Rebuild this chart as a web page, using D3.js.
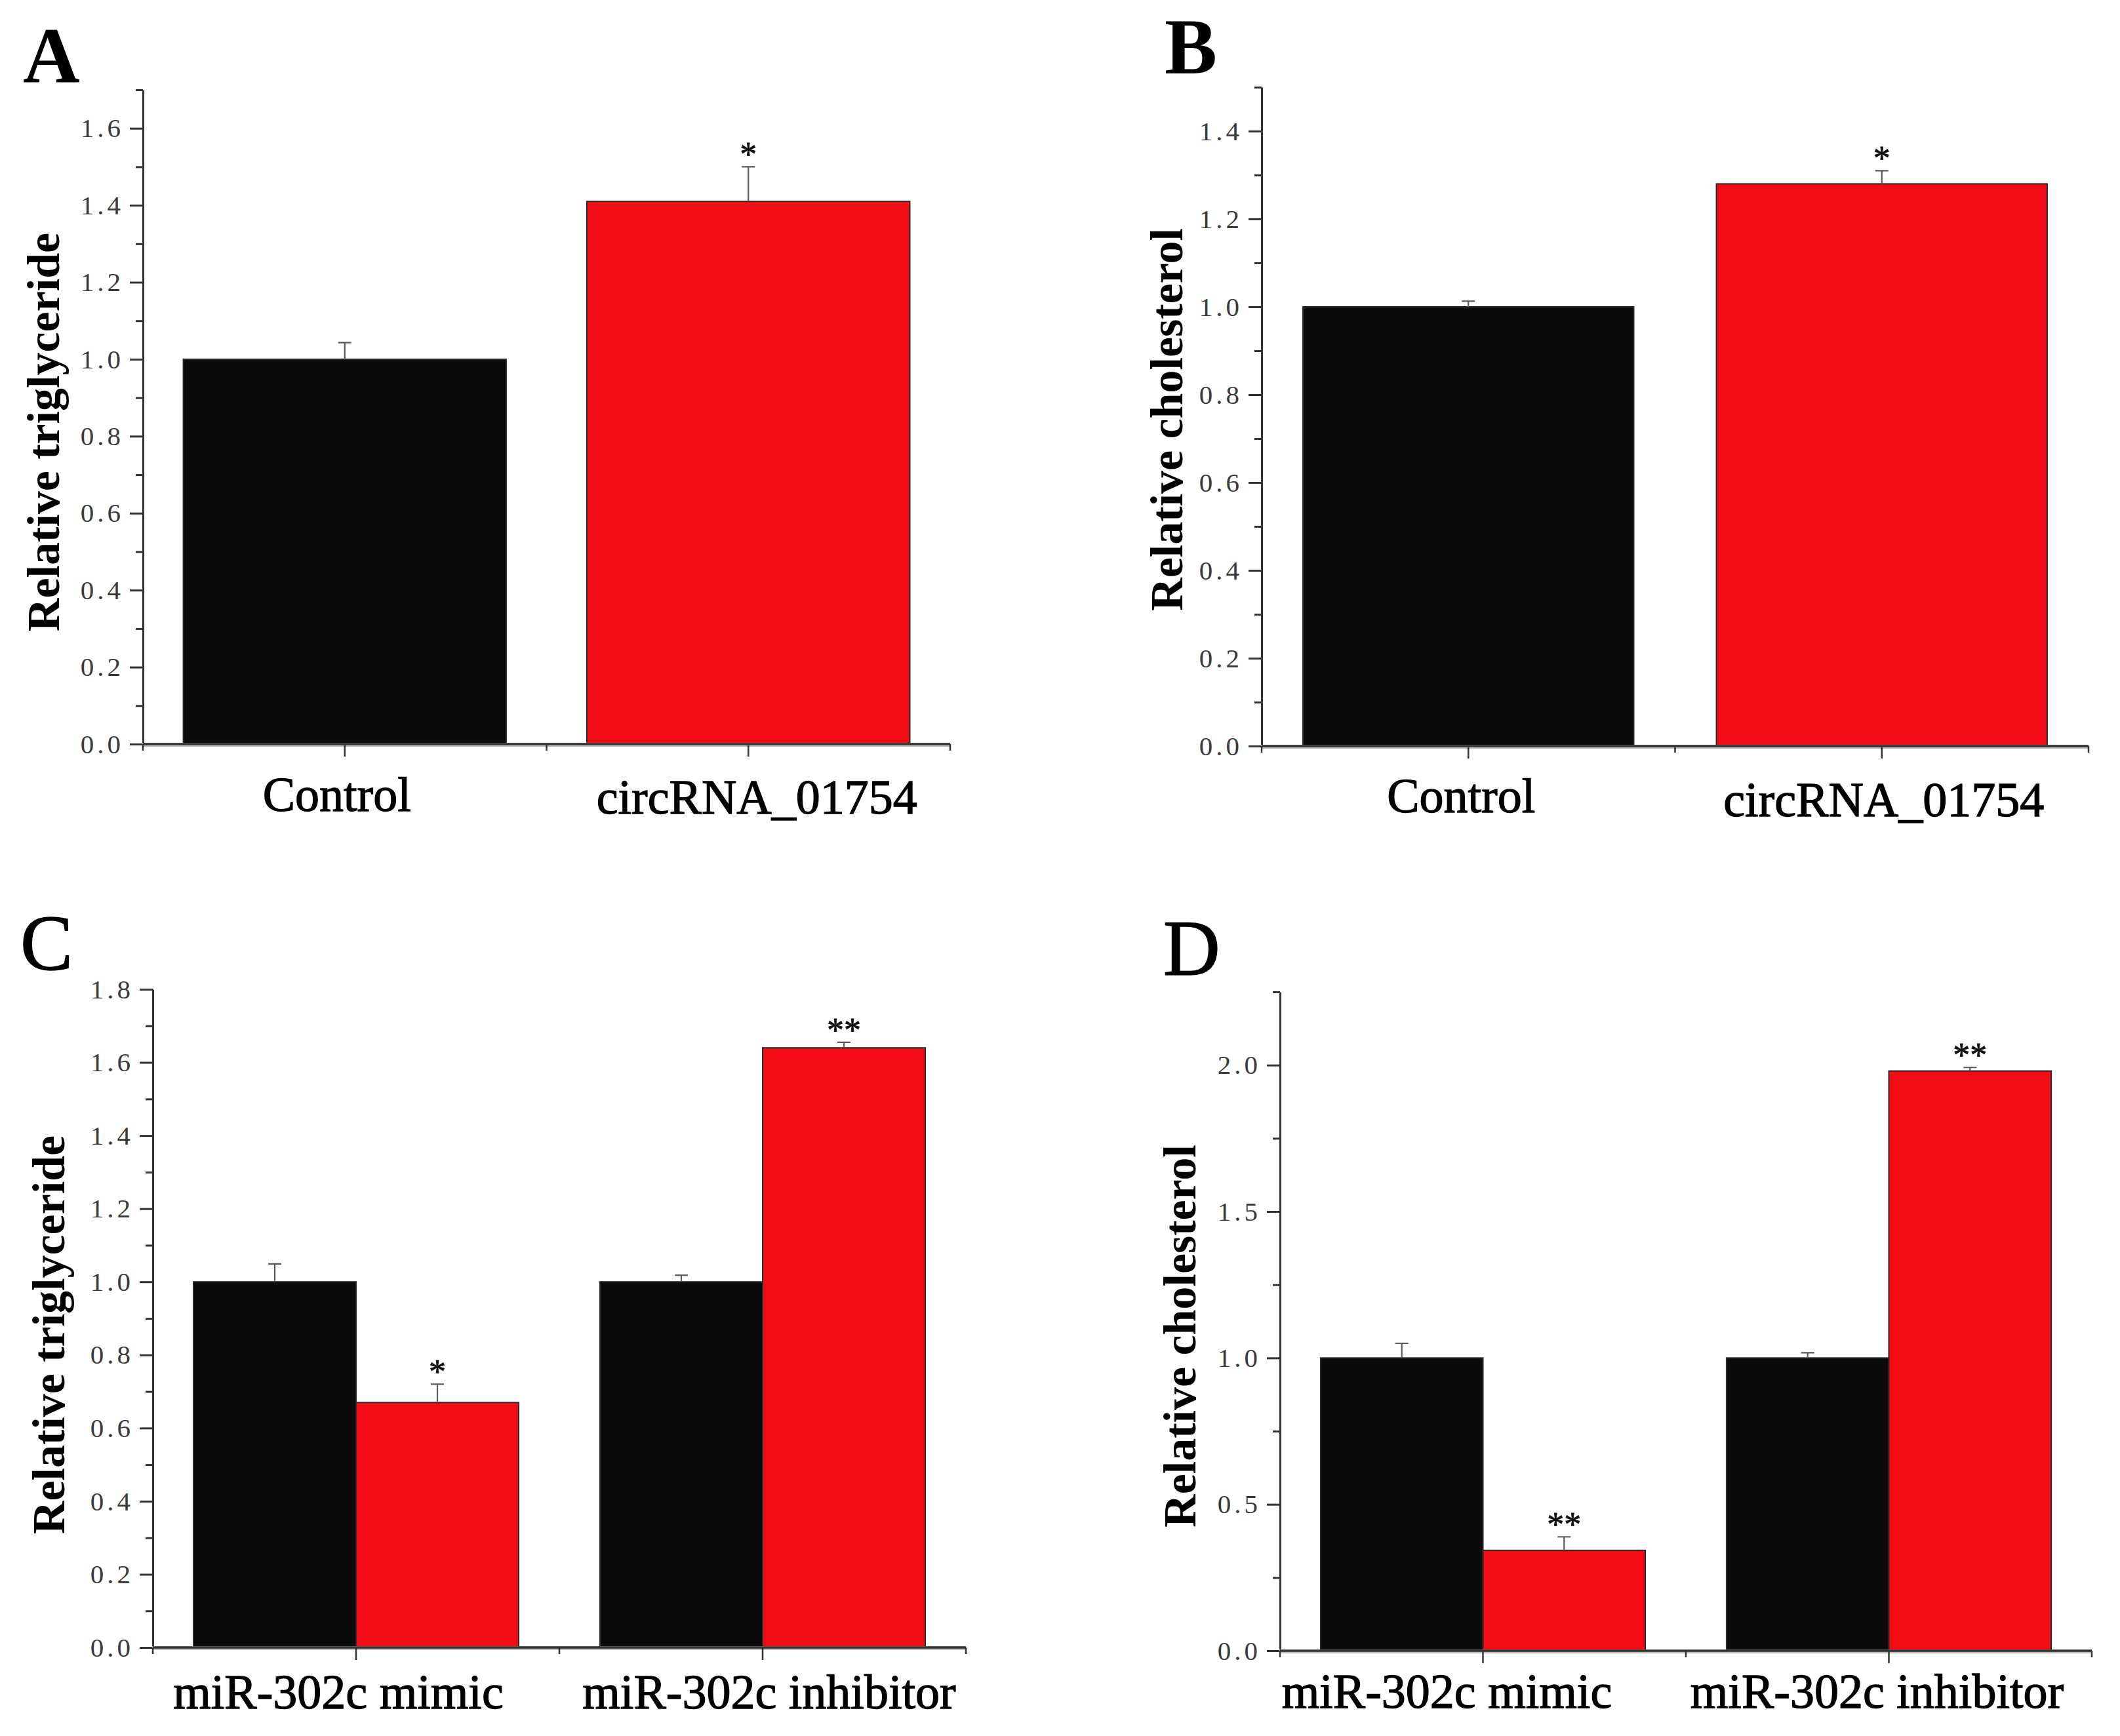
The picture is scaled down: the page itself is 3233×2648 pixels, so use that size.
<!DOCTYPE html>
<html><head><meta charset="utf-8">
<script src="https://cdn.jsdelivr.net/npm/d3@7"></script>
<style>html,body{margin:0;padding:0;background:#fff;} svg{display:block;}</style>
</head><body>
<svg id="chart" width="3233" height="2648"></svg>
<script>
// ---------- DATA ----------
const catsAB = ["Control", "circRNA_01754"];
const trigA = [1.00, 1.41];
const trigAErr = [0.043, 0.09];
const trigASig = ["", "*"];

const cholB = [1.00, 1.28];
const cholBErr = [0.013, 0.03];
const cholBSig = ["", "*"];

const groupsCD = ["miR-302c mimic", "miR-302c inhibitor"];
const seriesCD = ["Control", "Treatment"];
const trigCCtrl = [1.00, 1.00];
const trigCCtrlErr = [0.049, 0.018];
const trigCTreat = [0.67, 1.64];
const trigCTreatErr = [0.05, 0.015];
const trigCSig = ["*", "**"];

const cholDCtrl = [1.00, 1.00];
const cholDCtrlErr = [0.05, 0.018];
const cholDTreat = [0.343, 1.98];
const cholDTreatErr = [0.046, 0.012];
const cholDSig = ["**", "**"];

const ticksA = [0.0, 0.2, 0.4, 0.6, 0.8, 1.0, 1.2, 1.4, 1.6];
const minorA = [0.1, 0.3, 0.5, 0.7, 0.9, 1.1, 1.3, 1.5, 1.7];
const ticksB = [0.0, 0.2, 0.4, 0.6, 0.8, 1.0, 1.2, 1.4];
const minorB = [0.1, 0.3, 0.5, 0.7, 0.9, 1.1, 1.3, 1.5];
const ticksC = [0.0, 0.2, 0.4, 0.6, 0.8, 1.0, 1.2, 1.4, 1.6, 1.8];
const minorC = [0.1, 0.3, 0.5, 0.7, 0.9, 1.1, 1.3, 1.5, 1.7];
const ticksD = [0.0, 0.5, 1.0, 1.5, 2.0];
const minorD = [0.25, 0.75, 1.25, 1.75, 2.25];

const titleTrig = "Relative triglyceride";
const titleChol = "Relative cholesterol";

// ---------- STYLE ----------
const FONT = "'Liberation Serif','Times New Roman',serif";
const BLACK = "#0b0b0b", RED = "#f20d16";
const AXIS = "#333333";
const colorByCategory = [BLACK, RED];   // single-series panels
const colorBySeries = [BLACK, RED];     // grouped panels

const svg = d3.select("#chart");

function drawPanel(cfg) {
  const g = svg.append("g");
  const y = d3.scaleLinear().domain([0, cfg.yMax]).range([cfg.yBase, cfg.yTop]);
  const xb = d3.scaleBand().domain(cfg.cats).range([cfg.x0, cfg.x1])
    .paddingInner(0.2).paddingOuter(0.1);

  const bars = [];
  const inner = d3.scaleBand().domain(cfg.series.map((d, i) => i))
    .range([0, xb.bandwidth()]).padding(0);
  cfg.series.forEach((s, si) => {
    cfg.cats.forEach((c, ci) => {
      bars.push({
        x: xb(c) + inner(si), w: inner.bandwidth(),
        v: s.values[ci], e: s.errs[ci], sig: s.sig ? s.sig[ci] : "",
        color: cfg.series.length === 1 ? colorByCategory[ci] : colorBySeries[si]
      });
    });
  });

  g.selectAll("rect.bar").data(bars).join("rect")
    .attr("x", d => d.x).attr("width", d => d.w)
    .attr("y", d => y(d.v)).attr("height", d => y(0) - y(d.v))
    .attr("fill", d => d.color)
    .attr("stroke", "#2a2a2a").attr("stroke-width", 2);

  g.selectAll("path.err").data(bars).join("path")
    .attr("d", d => {
      const cx = d.x + d.w / 2;
      return `M${cx},${y(d.v)}V${y(d.v + d.e)}M${cx - 10},${y(d.v + d.e)}H${cx + 10}`;
    })
    .attr("fill", "none").attr("stroke", "#5a5a5a").attr("stroke-width", 2.2);

  g.selectAll("text.sig").data(bars.filter(d => d.sig)).join("text")
    .attr("x", d => d.x + d.w / 2)
    .attr("y", d => y(d.v + d.e) - 1)
    .attr("text-anchor", "middle")
    .attr("font-family", FONT).attr("font-size", 52).attr("fill", "#111")
    .attr("stroke", "#111").attr("stroke-width", 0.8)
    .text(d => d.sig);

  const ya = g.append("g").attr("transform", `translate(${cfg.x0},0)`)
    .call(d3.axisLeft(y).tickValues(cfg.ticks).tickSize(20).tickSizeOuter(0)
      .tickPadding(9).tickFormat(d3.format(".1f")));
  ya.attr("font-family", FONT);
  ya.select(".domain").attr("stroke", AXIS).attr("stroke-width", 3);
  ya.selectAll(".tick line").attr("stroke", AXIS).attr("stroke-width", 3);
  ya.selectAll(".tick text").attr("font-family", FONT).attr("font-size", 41)
    .attr("letter-spacing", 5).attr("fill", "#3a3a3a");
  const ym = g.append("g").attr("transform", `translate(${cfg.x0},0)`)
    .call(d3.axisLeft(y).tickValues(cfg.minor).tickSize(11).tickFormat(""));
  ym.select(".domain").remove();
  ym.selectAll(".tick line").attr("stroke", AXIS).attr("stroke-width", 3);

  g.append("line").attr("x1", cfg.x0 - 1).attr("x2", cfg.x1)
    .attr("y1", cfg.yBase + 1).attr("y2", cfg.yBase + 1)
    .attr("stroke", "#bdbdbd").attr("stroke-width", 6);
  g.append("line").attr("x1", cfg.x0).attr("x2", cfg.x1)
    .attr("y1", cfg.yBase).attr("y2", cfg.yBase)
    .attr("stroke", AXIS).attr("stroke-width", 3.5);
  const xa = g.append("g").attr("transform", `translate(0,${cfg.yBase})`)
    .call(d3.axisBottom(xb).tickSize(19).tickSizeOuter(0).tickFormat(""));
  xa.select(".domain").remove();
  xa.selectAll(".tick line").attr("stroke", AXIS).attr("stroke-width", 2.5);
  const r = xb.range();
  g.selectAll("line.sep").data([r[0], (r[0] + r[1]) / 2, r[1]]).join("line")
    .attr("x1", d => d).attr("x2", d => d)
    .attr("y1", cfg.yBase).attr("y2", cfg.yBase + 10)
    .attr("stroke", AXIS).attr("stroke-width", 2.5);

  g.selectAll("text.cat").data(cfg.cats).join("text")
    .attr("x", (d, i) => xb(d) + xb.bandwidth() / 2 + cfg.labelDx[i])
    .attr("y", (d, i) => cfg.yBase + cfg.labelDy[i])
    .attr("text-anchor", "middle")
    .attr("font-family", FONT).attr("font-size", 74).attr("fill", "#000")
    .attr("stroke", "#000").attr("stroke-width", 1.3)
    .text(d => d);

  g.append("text")
    .attr("transform", `translate(${cfg.titleX},${cfg.titleY}) rotate(-90)`)
    .attr("text-anchor", "middle")
    .attr("font-family", FONT).attr("font-weight", "bold").attr("font-size", 70)
    .attr("fill", "#000").text(cfg.title);

  g.append("text").attr("x", cfg.letterX).attr("y", cfg.letterY)
    .attr("font-family", FONT).attr("font-weight", cfg.letterBold ? "bold" : "normal")
    .attr("font-size", 120).attr("fill", "#000")
    .attr("stroke", "#000").attr("stroke-width", cfg.letterBold ? 0 : 1.5)
    .text(cfg.letter);
}

drawPanel({
  letter: "A", letterBold: true, letterX: 35, letterY: 125,
  cats: catsAB,
  series: [{ values: trigA, errs: trigAErr, sig: trigASig }],
  x0: 218, x1: 1449, yBase: 1135, yTop: 137, yMax: 1.7,
  ticks: ticksA, minor: minorA, labelDy: [102, 106], labelDx: [-12, 13],
  title: titleTrig, titleX: 90, titleY: 659
});
drawPanel({
  letter: "B", letterBold: true, letterX: 1776, letterY: 112,
  cats: catsAB,
  series: [{ values: cholB, errs: cholBErr, sig: cholBSig }],
  x0: 1924, x1: 3185, yBase: 1138, yTop: 133, yMax: 1.5,
  ticks: ticksB, minor: minorB, labelDy: [101, 107], labelDx: [-11, 3],
  title: titleChol, titleX: 1803, titleY: 640
});
drawPanel({
  letter: "C", letterBold: false, letterX: 31, letterY: 1479,
  cats: groupsCD,
  series: [
    { name: seriesCD[0], values: trigCCtrl, errs: trigCCtrlErr, sig: null },
    { name: seriesCD[1], values: trigCTreat, errs: trigCTreatErr, sig: trigCSig }
  ],
  x0: 233, x1: 1473, yBase: 2513, yTop: 1509, yMax: 1.8,
  ticks: ticksC, minor: minorC, labelDy: [93, 93], labelDx: [-27, 10],
  title: titleTrig, titleX: 98, titleY: 2036
});
drawPanel({
  letter: "D", letterBold: false, letterX: 1774, letterY: 1487,
  cats: groupsCD,
  series: [
    { name: seriesCD[0], values: cholDCtrl, errs: cholDCtrlErr, sig: null },
    { name: seriesCD[1], values: cholDTreat, errs: cholDTreatErr, sig: cholDSig }
  ],
  x0: 1952, x1: 3190, yBase: 2518, yTop: 1513, yMax: 2.25,
  ticks: ticksD, minor: minorD, labelDy: [87, 87], labelDx: [-55, -18],
  title: titleChol, titleX: 1823, titleY: 2038
});
</script>
</body></html>
